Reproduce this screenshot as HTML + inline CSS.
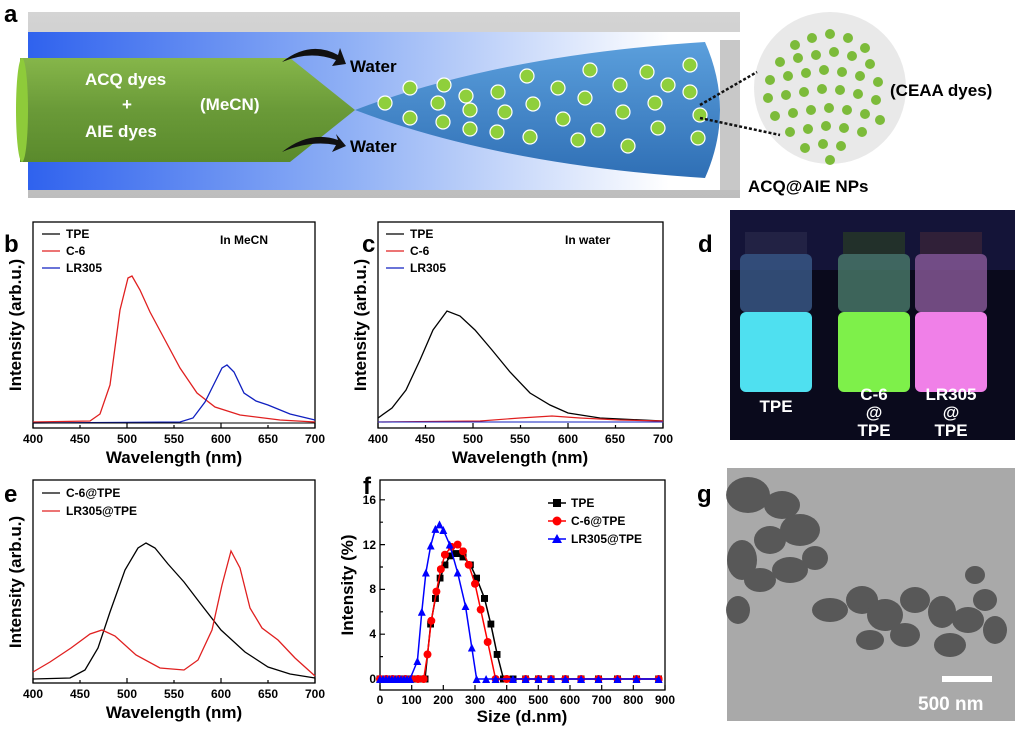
<!DOCTYPE html>
<html><head><meta charset="utf-8"><style>
html,body{margin:0;padding:0;background:#fff}
svg{display:block;font-family:"Liberation Sans",Arial,sans-serif;font-weight:bold}
</style></head><body>
<svg width="1023" height="736" viewBox="0 0 1023 736" xmlns="http://www.w3.org/2000/svg">
<defs>
<linearGradient id="bl" x1="0" x2="1" y1="0" y2="0">
<stop offset="0" stop-color="#2f62ee"/><stop offset="0.45" stop-color="#8fb0f5"/><stop offset="0.9" stop-color="#ffffff"/></linearGradient>
<linearGradient id="gray" x1="0" x2="0" y1="0" y2="1"><stop offset="0" stop-color="#d4d4d4"/><stop offset="1" stop-color="#bdbdbd"/></linearGradient>
<linearGradient id="cone" x1="0" x2="0" y1="0" y2="1"><stop offset="0" stop-color="#5b9fdc"/><stop offset="1" stop-color="#2f6fb5"/></linearGradient>
<linearGradient id="grn" x1="0" x2="0" y1="0" y2="1"><stop offset="0" stop-color="#86b64a"/><stop offset="0.5" stop-color="#6a9a38"/><stop offset="1" stop-color="#5a8a2c"/></linearGradient>
<marker id="sq" viewBox="0 0 8 8" refX="4" refY="4" markerWidth="7" markerHeight="7" markerUnits="userSpaceOnUse"><rect width="8" height="8" fill="#000"/></marker>
<marker id="ci" viewBox="0 0 8 8" refX="4" refY="4" markerWidth="8" markerHeight="8" markerUnits="userSpaceOnUse"><circle cx="4" cy="4" r="4" fill="#f00"/></marker>
<marker id="tr" viewBox="0 0 8 8" refX="4" refY="4" markerWidth="8" markerHeight="8" markerUnits="userSpaceOnUse"><path d="M4 0L8 8H0Z" fill="#00f"/></marker>
</defs>

<!-- Panel a -->
<text x="4" y="22" font-size="24">a</text>
<rect x="28" y="12" width="712" height="186" fill="url(#gray)"/>
<rect x="28" y="32" width="712" height="158" fill="url(#bl)"/>
<rect x="28" y="55" width="712" height="112" fill="url(#bl)" opacity="0.5"/>
<rect x="720" y="40" width="20" height="150" fill="#c8c8c8"/>
<path d="M20 58 H290 L355 110 L290 162 H20 Z" fill="url(#grn)"/>
<ellipse cx="22" cy="110" rx="6" ry="52" fill="#8ecb3a"/>
<path d="M355 110 Q500 55 705 42 Q735 110 705 178 Q500 165 355 110 Z" fill="url(#cone)"/>
<g fill="#8fcf3c" stroke="#fff" stroke-width="1.2">
<circle cx="410" cy="88" r="7"/><circle cx="385" cy="103" r="7"/><circle cx="410" cy="118" r="7"/><circle cx="444" cy="85" r="7"/><circle cx="438" cy="103" r="7"/><circle cx="443" cy="122" r="7"/><circle cx="466" cy="96" r="7"/><circle cx="470" cy="129" r="7"/><circle cx="498" cy="92" r="7"/><circle cx="505" cy="112" r="7"/><circle cx="497" cy="132" r="7"/><circle cx="527" cy="76" r="7"/><circle cx="533" cy="104" r="7"/><circle cx="530" cy="137" r="7"/><circle cx="558" cy="88" r="7"/><circle cx="563" cy="119" r="7"/><circle cx="590" cy="70" r="7"/><circle cx="585" cy="98" r="7"/><circle cx="598" cy="130" r="7"/><circle cx="620" cy="85" r="7"/><circle cx="623" cy="112" r="7"/><circle cx="628" cy="146" r="7"/><circle cx="647" cy="72" r="7"/><circle cx="655" cy="103" r="7"/><circle cx="658" cy="128" r="7"/><circle cx="668" cy="85" r="7"/><circle cx="690" cy="65" r="7"/><circle cx="690" cy="92" r="7"/><circle cx="700" cy="115" r="7"/><circle cx="698" cy="138" r="7"/><circle cx="578" cy="140" r="7"/><circle cx="470" cy="110" r="7"/>
</g>
<g fill="#fff" font-size="17"><text x="85" y="85">ACQ dyes</text><text x="122" y="110">+</text><text x="85" y="137">AIE dyes</text><text x="200" y="110">(MeCN)</text></g>
<path d="M282 62 Q310 40 338 55 L340 48 L346 64 L332 66 L336 60 Q310 50 282 62 Z" fill="#111"/>
<path d="M282 152 Q310 130 338 140 L336 134 L346 146 L332 152 L336 145 Q310 140 282 152 Z" fill="#111"/>
<text x="350" y="72" font-size="17" fill="#000">Water</text>
<text x="350" y="152" font-size="17" fill="#000">Water</text>
<circle cx="830" cy="88" r="76" fill="#e9e9e9"/>
<g fill="#7cbb3a">
<circle cx="795" cy="45" r="5"/><circle cx="812" cy="38" r="5"/><circle cx="830" cy="34" r="5"/><circle cx="848" cy="38" r="5"/><circle cx="865" cy="48" r="5"/>
<circle cx="780" cy="62" r="5"/><circle cx="798" cy="58" r="5"/><circle cx="816" cy="55" r="5"/><circle cx="834" cy="52" r="5"/><circle cx="852" cy="56" r="5"/><circle cx="870" cy="64" r="5"/>
<circle cx="770" cy="80" r="5"/><circle cx="788" cy="76" r="5"/><circle cx="806" cy="73" r="5"/><circle cx="824" cy="70" r="5"/><circle cx="842" cy="72" r="5"/><circle cx="860" cy="76" r="5"/><circle cx="878" cy="82" r="5"/>
<circle cx="768" cy="98" r="5"/><circle cx="786" cy="95" r="5"/><circle cx="804" cy="92" r="5"/><circle cx="822" cy="89" r="5"/><circle cx="840" cy="90" r="5"/><circle cx="858" cy="94" r="5"/><circle cx="876" cy="100" r="5"/>
<circle cx="775" cy="116" r="5"/><circle cx="793" cy="113" r="5"/><circle cx="811" cy="110" r="5"/><circle cx="829" cy="108" r="5"/><circle cx="847" cy="110" r="5"/><circle cx="865" cy="114" r="5"/><circle cx="880" cy="120" r="5"/>
<circle cx="790" cy="132" r="5"/><circle cx="808" cy="129" r="5"/><circle cx="826" cy="126" r="5"/><circle cx="844" cy="128" r="5"/><circle cx="862" cy="132" r="5"/>
<circle cx="805" cy="148" r="5"/><circle cx="823" cy="144" r="5"/><circle cx="841" cy="146" r="5"/><circle cx="830" cy="160" r="5"/>
</g>
<path d="M700 105 L757 72 M700 118 L780 135" stroke="#111" stroke-width="2.5" stroke-dasharray="3 2"/>
<text x="890" y="96" font-size="17">(CEAA dyes)</text>
<text x="748" y="192" font-size="17">ACQ@AIE NPs</text>

<!-- Panel b -->
<text x="4" y="252" font-size="24">b</text>
<rect x="33" y="222" width="282" height="206" fill="none" stroke="#000" stroke-width="1.3"/>
<g stroke="#000" stroke-width="1.2">
<path d="M33 428v-5M80 428v-3M127 428v-5M174 428v-3M221 428v-5M268 428v-3M315 428v-5"/>
</g>
<g font-size="12" text-anchor="middle"><text x="33" y="443">400</text><text x="80" y="443">450</text><text x="127" y="443">500</text><text x="174" y="443">550</text><text x="221" y="443">600</text><text x="268" y="443">650</text><text x="315" y="443">700</text></g>
<text x="174" y="463" font-size="17" text-anchor="middle">Wavelength (nm)</text>
<text transform="translate(21,325) rotate(-90)" font-size="17" text-anchor="middle">Intensity (arb.u.)</text>
<path d="M33 422 L90 421 L100 414 L110 385 L120 310 L128 278 L132 276 L140 290 L150 312 L165 340 L180 368 L197 393 L215 407 L240 415 L280 420 L315 422" fill="none" stroke="#e02020" stroke-width="1.3"/>
<path d="M33 423 L180 422 L193 418 L205 402 L215 382 L222 368 L227 365 L234 372 L244 393 L256 401 L268 405 L290 414 L315 420" fill="none" stroke="#1020c0" stroke-width="1.3"/>
<path d="M33 423 H315" stroke="#000" stroke-width="1"/>
<g font-size="12"><path d="M42 234h18" stroke="#000" stroke-width="1.3"/><text x="66" y="238">TPE</text>
<path d="M42 251h18" stroke="#e02020" stroke-width="1.3"/><text x="66" y="255">C-6</text>
<path d="M42 268h18" stroke="#1020c0" stroke-width="1.3"/><text x="66" y="272">LR305</text>
<text x="220" y="244">In MeCN</text></g>

<!-- Panel c -->
<text x="362" y="252" font-size="24">c</text>
<rect x="378" y="222" width="285" height="206" fill="none" stroke="#000" stroke-width="1.3"/>
<g stroke="#000" stroke-width="1.2"><path d="M378 428v-5M425.5 428v-3M473 428v-5M520.5 428v-3M568 428v-5M615.5 428v-3M663 428v-5"/></g>
<g font-size="12" text-anchor="middle"><text x="378" y="443">400</text><text x="425" y="443">450</text><text x="473" y="443">500</text><text x="520" y="443">550</text><text x="568" y="443">600</text><text x="615" y="443">650</text><text x="663" y="443">700</text></g>
<text x="520" y="463" font-size="17" text-anchor="middle">Wavelength (nm)</text>
<text transform="translate(366,325) rotate(-90)" font-size="17" text-anchor="middle">Intensity (arb.u.)</text>
<path d="M378 418 L392 408 L406 390 L420 360 L433 330 L447 311 L460 316 L475 330 L492 350 L510 372 L530 393 L550 405 L568 413 L600 418 L663 421" fill="none" stroke="#000" stroke-width="1.3"/>
<path d="M378 422 L480 421 L520 418 L552 416 L580 418 L620 420 L663 421" fill="none" stroke="#e02020" stroke-width="1.2"/>
<path d="M378 422 L663 422" fill="none" stroke="#1020c0" stroke-width="1.1"/>
<g font-size="12"><path d="M386 234h18" stroke="#000" stroke-width="1.3"/><text x="410" y="238">TPE</text>
<path d="M386 251h18" stroke="#e02020" stroke-width="1.3"/><text x="410" y="255">C-6</text>
<path d="M386 268h18" stroke="#1020c0" stroke-width="1.3"/><text x="410" y="272">LR305</text>
<text x="565" y="244">In water</text></g>

<!-- Panel d -->
<text x="698" y="252" font-size="24">d</text>
<rect x="730" y="210" width="285" height="230" fill="#0a0a1c"/>
<rect x="730" y="210" width="285" height="60" fill="#141438"/>
<g>
<rect x="745" y="232" width="62" height="22" fill="#222244"/><rect x="740" y="254" width="72" height="58" rx="6" fill="#3a5a8a" opacity="0.8"/><rect x="740" y="312" width="72" height="80" rx="6" fill="#4fe0f0"/>
<rect x="843" y="232" width="62" height="22" fill="#22302a"/><rect x="838" y="254" width="72" height="58" rx="6" fill="#4a7a6a" opacity="0.8"/><rect x="838" y="312" width="72" height="80" rx="6" fill="#7ef04a"/>
<rect x="920" y="232" width="62" height="22" fill="#302038"/><rect x="915" y="254" width="72" height="58" rx="6" fill="#8a5a9a" opacity="0.8"/><rect x="915" y="312" width="72" height="80" rx="6" fill="#f080e8"/>
</g>
<g fill="#fff" font-size="17" text-anchor="middle"><text x="776" y="412">TPE</text><text x="874" y="400">C-6</text><text x="874" y="418">@</text><text x="874" y="436">TPE</text><text x="951" y="400">LR305</text><text x="951" y="418">@</text><text x="951" y="436">TPE</text></g>

<!-- Panel e -->
<text x="4" y="502" font-size="24">e</text>
<rect x="33" y="480" width="282" height="203" fill="none" stroke="#000" stroke-width="1.3"/>
<g stroke="#000" stroke-width="1.2"><path d="M33 683v-5M80 683v-3M127 683v-5M174 683v-3M221 683v-5M268 683v-3M315 683v-5"/></g>
<g font-size="12" text-anchor="middle"><text x="33" y="698">400</text><text x="80" y="698">450</text><text x="127" y="698">500</text><text x="174" y="698">550</text><text x="221" y="698">600</text><text x="268" y="698">650</text><text x="315" y="698">700</text></g>
<text x="174" y="718" font-size="17" text-anchor="middle">Wavelength (nm)</text>
<text transform="translate(21,582) rotate(-90)" font-size="17" text-anchor="middle">Intensity (arb.u.)</text>
<path d="M33 679 L70 678 L85 670 L98 648 L110 612 L125 570 L138 548 L146 543 L155 548 L168 564 L184 582 L200 603 L221 630 L245 652 L268 667 L290 674 L315 678" fill="none" stroke="#000" stroke-width="1.3"/>
<path d="M33 672 L50 662 L71 648 L90 634 L102 630 L115 636 L136 655 L160 668 L184 670 L198 660 L212 630 L222 585 L231 551 L240 568 L250 608 L262 628 L278 640 L295 658 L315 676" fill="none" stroke="#e02020" stroke-width="1.3"/>
<g font-size="12"><path d="M42 493h18" stroke="#000" stroke-width="1.3"/><text x="66" y="497">C-6@TPE</text>
<path d="M42 511h18" stroke="#e02020" stroke-width="1.3"/><text x="66" y="515">LR305@TPE</text></g>

<!-- Panel f -->
<text x="363" y="494" font-size="24">f</text>
<rect x="380" y="480" width="285" height="210" fill="none" stroke="#000" stroke-width="1.3"/>
<g stroke="#000" stroke-width="1.2"><path d="M380 679h5M380 656.6h3M380 634.2h5M380 611.8h3M380 589.4h5M380 567h3M380 544.6h5M380 522.2h3M380 499.8h5"/>
<path d="M380 690v-5M411.7 690v-5M443.3 690v-5M475 690v-5M506.7 690v-5M538.3 690v-5M570 690v-5M601.7 690v-5M633.3 690v-5M665 690v-5"/></g>
<g font-size="12" text-anchor="end"><text x="376" y="683">0</text><text x="376" y="638">4</text><text x="376" y="593">8</text><text x="376" y="549">12</text><text x="376" y="504">16</text></g>
<g font-size="12" text-anchor="middle"><text x="380" y="704">0</text><text x="411.7" y="704">100</text><text x="443.3" y="704">200</text><text x="475" y="704">300</text><text x="506.7" y="704">400</text><text x="538.3" y="704">500</text><text x="570" y="704">600</text><text x="601.7" y="704">700</text><text x="633.3" y="704">800</text><text x="665" y="704">900</text></g>
<text x="522" y="722" font-size="17" text-anchor="middle">Size (d.nm)</text>
<text transform="translate(353,585) rotate(-90)" font-size="17" text-anchor="middle">Intensity (%)</text>
<polyline fill="none" stroke="#000" stroke-width="1.5" marker-start="url(#sq)" marker-mid="url(#sq)" marker-end="url(#sq)" points="380,679 386.3,679 392.7,679 399,679 405.3,679 411.7,679 418,679 425,679 430.7,624.1 435.4,598.4 440.2,578.2 444.9,564.8 450.3,555.8 456,553.6 463,556.9 470.3,564.8 476.6,578.2 484.5,598.4 490.8,624.1 497.2,654.4 503.5,679 513,679 525.7,679 538.4,679 551,679 565.3,679 581.1,679 598.5,679 617.5,679 636.5,679 658.7,679"/>
<polyline fill="none" stroke="#f00" stroke-width="1.5" marker-start="url(#ci)" marker-mid="url(#ci)" marker-end="url(#ci)" points="380,679 386.3,679 392.7,679 399,679 405.3,679 411.7,679 418,679 423.7,679 427.5,654.4 431.3,620.8 436.4,591.6 440.8,569.2 444.9,554.7 451.3,546.8 457.6,544.6 463,551.3 468.7,564.8 475,583.8 480.7,609.6 487.7,642 495.6,679 506.7,679 525.7,679 538.4,679 551,679 565.3,679 581.1,679 598.5,679 617.5,679 636.5,679 658.7,679"/>
<polyline fill="none" stroke="#00f" stroke-width="1.5" marker-start="url(#tr)" marker-mid="url(#tr)" marker-end="url(#tr)" points="380,679 383,679 386,679 389,679 392,679 395,679 398,679 401,679 404,679 407,679 410,679 417.4,661.1 421.8,611.8 425.9,572.6 430.7,545.7 435.4,528.9 439.5,524.4 443.3,530 449.7,544.6 457.6,572.6 465.5,606.2 471.8,647.6 476.6,679 486.1,679 495.6,679 513,679 525.7,679 538.4,679 551,679 565.3,679 581.1,679 598.5,679 617.5,679 636.5,679 658.7,679"/>
<g font-size="12">
<path d="M548 503h18" stroke="#000" stroke-width="1.5"/><rect x="553" y="499" width="8" height="8"/><text x="571" y="507">TPE</text>
<path d="M548 521h18" stroke="#f00" stroke-width="1.5"/><circle cx="557" cy="521" r="4.5" fill="#f00"/><text x="571" y="525">C-6@TPE</text>
<path d="M548 539h18" stroke="#00f" stroke-width="1.5"/><path d="M557 534l5 9h-10z" fill="#00f"/><text x="571" y="543">LR305@TPE</text></g>

<!-- Panel g -->
<text x="697" y="502" font-size="24">g</text>
<rect x="727" y="468" width="288" height="253" fill="#a9a9a9"/>
<g fill="#4a4a4a" opacity="0.85">
<ellipse cx="748" cy="495" rx="22" ry="18"/><ellipse cx="782" cy="505" rx="18" ry="14"/><ellipse cx="800" cy="530" rx="20" ry="16"/><ellipse cx="770" cy="540" rx="16" ry="14"/><ellipse cx="742" cy="560" rx="15" ry="20"/><ellipse cx="760" cy="580" rx="16" ry="12"/><ellipse cx="790" cy="570" rx="18" ry="13"/><ellipse cx="815" cy="558" rx="13" ry="12"/><ellipse cx="738" cy="610" rx="12" ry="14"/>
<ellipse cx="830" cy="610" rx="18" ry="12"/><ellipse cx="862" cy="600" rx="16" ry="14"/><ellipse cx="885" cy="615" rx="18" ry="16"/><ellipse cx="915" cy="600" rx="15" ry="13"/><ellipse cx="942" cy="612" rx="14" ry="16"/><ellipse cx="968" cy="620" rx="16" ry="13"/><ellipse cx="985" cy="600" rx="12" ry="11"/><ellipse cx="905" cy="635" rx="15" ry="12"/><ellipse cx="870" cy="640" rx="14" ry="10"/><ellipse cx="950" cy="645" rx="16" ry="12"/><ellipse cx="995" cy="630" rx="12" ry="14"/><ellipse cx="975" cy="575" rx="10" ry="9"/>
</g>
<rect x="942" y="676" width="50" height="6" fill="#fff"/>
<text x="918" y="710" font-size="19" fill="#fff">500 nm</text>
</svg>
</body></html>
